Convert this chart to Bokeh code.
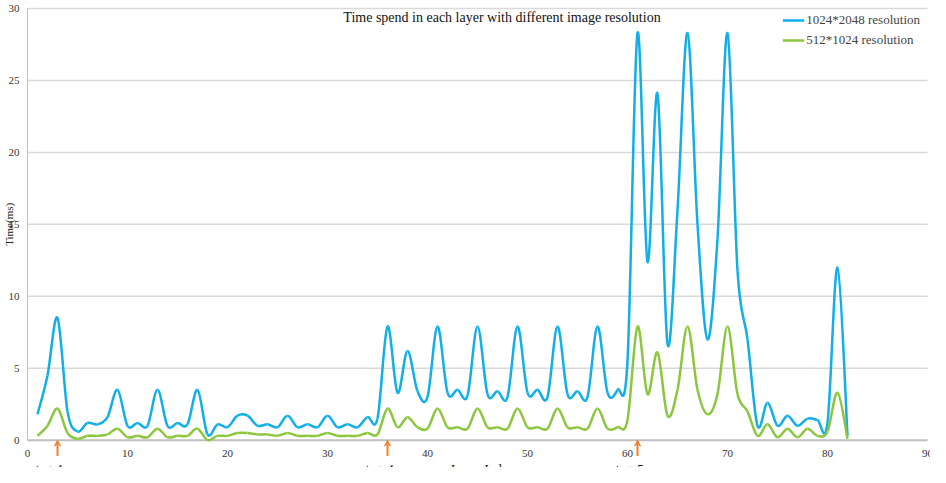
import numpy as np
from bokeh.plotting import figure
from bokeh.models import Arrow, VeeHead, Legend, LegendItem, ColumnDataSource
from bokeh.core.properties import value
from bokeh.embed import file_html
from bokeh.resources import INLINE

layers = list(range(1, 83))
hi_res = [1.8, 4.5, 8.5, 2.0, 0.6, 1.2, 1.1, 1.6, 3.5, 1.0, 1.2, 1.0, 3.5, 1.0, 1.2, 1.1, 3.5, 0.4, 1.1, 0.9,
          1.7, 1.7, 1.0, 1.1, 0.9, 1.7, 0.9, 1.1, 0.9, 1.7, 0.9, 1.1, 0.9, 1.6, 1.5, 7.9, 3.3, 6.2, 3.4, 3.0,
          7.9, 3.3, 3.5, 3.1, 7.9, 3.2, 3.4, 3.0, 7.9, 3.3, 3.5, 3.0, 7.9, 3.2, 3.4, 3.0, 7.9, 3.3, 3.5, 5.5,
          28.3, 12.4, 24.1, 6.7, 16.0, 28.3, 15.0, 7.0, 14.0, 28.3, 11.8, 7.0, 1.0, 2.6, 1.0, 1.7, 1.0, 1.5, 1.4, 1.2,
          12.0, 0.3]
lo_res = [0.3, 1.0, 2.2, 0.5, 0.1, 0.3, 0.3, 0.4, 0.8, 0.2, 0.3, 0.2, 0.8, 0.2, 0.3, 0.3, 0.8, 0.0, 0.3, 0.3,
          0.5, 0.5, 0.4, 0.4, 0.3, 0.5, 0.3, 0.3, 0.3, 0.5, 0.3, 0.3, 0.3, 0.5, 0.4, 2.2, 0.9, 1.6, 0.9, 0.8,
          2.2, 0.9, 0.9, 0.8, 2.2, 0.9, 0.9, 0.8, 2.2, 0.9, 0.9, 0.8, 2.2, 0.9, 0.9, 0.8, 2.2, 0.8, 0.9, 1.4,
          7.9, 3.2, 6.1, 1.7, 3.5, 7.9, 3.5, 1.8, 3.2, 7.9, 3.2, 2.0, 0.3, 1.1, 0.2, 0.8, 0.2, 0.8, 0.3, 0.6,
          3.3, 0.1]
x_ticks = list(range(0, 91, 10))
y_ticks = list(range(0, 31, 5))
stage_names = ["stage1 conv", "stage4 conv", "stage5 conv"]
stage_layers = [3, 36, 61]

FONT = value("Liberation Serif")
BLUE = "#12aee8"
GREEN = "#8cc63e"
ORANGE = "#f07f2a"


def smooth_source(xs, ys):
    # Catmull-Rom segments expressed as cubic beziers
    x = np.array(xs, float)
    y = np.array(ys, float)
    xp = np.concatenate([[x[0]], x, [x[-1]]])
    yp = np.concatenate([[y[0]], y, [y[-1]]])
    d = dict(x0=x[:-1], y0=y[:-1], x1=x[1:], y1=y[1:],
             cx0=x[:-1] + (xp[2:-1] - xp[:-3]) / 6, cy0=y[:-1] + (yp[2:-1] - yp[:-3]) / 6,
             cx1=x[1:] - (xp[3:] - xp[1:-2]) / 6, cy1=y[1:] - (yp[3:] - yp[1:-2]) / 6)
    return ColumnDataSource(d)


# the frame covers the whole canvas so the labels under the axis are not clipped
p = figure(width=930, height=467, x_range=(-2.7, 90.3), y_range=(-1.9, 30.56),
           output_backend="svg", toolbar_location=None,
           min_border_left=0, min_border_right=0, min_border_top=0, min_border_bottom=0)
p.xaxis.visible = False
p.yaxis.visible = False
p.grid.visible = False
p.outline_line_color = None

# gridlines and axis lines
p.segment(x0=[0] * 6, y0=y_ticks[1:], x1=[90] * 6, y1=y_ticks[1:], line_color="#d9d9d9", line_width=1.5)
p.segment(x0=[0], y0=[0], x1=[0], y1=[30], line_color="#bfbfbf", line_width=1)
p.segment(x0=[0], y0=[0], x1=[90], y1=[0], line_color="#bfbfbf", line_width=2)

# tick labels
p.text(x=[-0.8] * len(y_ticks), y=y_ticks, text=[str(v) for v in y_ticks], text_font=FONT,
       text_font_size="11px", text_color="#333333", text_align="right", text_baseline="middle")
p.text(x=x_ticks, y=[-0.9] * len(x_ticks), text=[str(v) for v in x_ticks], text_font=FONT,
       text_font_size="11px", text_color="#333333", text_align="center", text_baseline="middle")
p.text(x=[-1.9], y=[15], text=["Time(ms)"], angle=np.pi / 2, text_font=FONT,
       text_font_size="11px", text_color="#222222", text_align="center", text_baseline="middle")

r1 = p.bezier(x0="x0", y0="y0", x1="x1", y1="y1", cx0="cx0", cy0="cy0", cx1="cx1", cy1="cy1",
              source=smooth_source(layers, hi_res), line_color=BLUE, line_width=2.5)
r2 = p.bezier(x0="x0", y0="y0", x1="x1", y1="y1", cx0="cx0", cy0="cy0", cx1="cx1", cy1="cy1",
              source=smooth_source(layers, lo_res), line_color=GREEN, line_width=2.5)

legend = Legend(items=[LegendItem(label="1024*2048 resolution", renderers=[r1]),
                       LegendItem(label="512*1024 resolution", renderers=[r2])],
                location="top_right", background_fill_alpha=0, border_line_color=None,
                label_text_font="Liberation Serif", label_text_font_size="13px", glyph_width=22,
                label_standoff=2, spacing=-4, margin=10, padding=4)
p.add_layout(legend)

p.text(x=[47.8], y=[29.4], text=["Time spend  in each layer  with different image resolution"],
       text_font=FONT, text_font_size="14px", text_align="center", text_baseline="middle",
       text_color="#111111")

for lx in stage_layers:
    p.add_layout(Arrow(end=VeeHead(size=6, fill_color=ORANGE, line_color=ORANGE),
                       x_start=lx, y_start=-1.1, x_end=lx, y_end=0,
                       line_color=ORANGE, line_width=2))
p.text(x=[lx + 0.4 for lx in stage_layers] + [45.5], y=[-1.95] * 4, text=stage_names + ["Layer Index"],
       text_font=FONT, text_font_size="13px", text_align="center", text_baseline="middle",
       text_color="#111111")

open("out.html", "w").write(file_html(p, INLINE))
